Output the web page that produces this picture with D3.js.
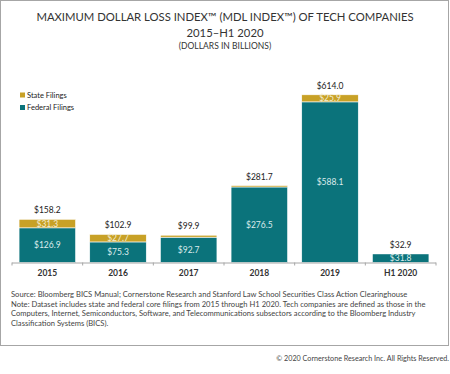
<!DOCTYPE html>
<html>
<head>
<meta charset="utf-8">
<script src="https://cdn.jsdelivr.net/npm/d3@7"></script>
<style>
  body { margin: 0; background: #fff; }
  svg text { font-family: Lato, "Open Sans", sans-serif; }
</style>
</head>
<body>
<div id="chart"></div>
<script>
// data
var years = ["2015", "2016", "2017", "2018", "2019", "H1 2020"];
var federal = [126.9, 75.3, 92.7, 276.5, 588.1, 31.8];
var state = [31.3, 27.7, 7.2, 5.2, 25.9, 1.1];
var totals = [158.2, 102.9, 99.9, 281.7, 614.0, 32.9];
var stateLabelled = [true, true, false, false, true, false];
var notes = [
    "Source: Bloomberg BICS Manual; Cornerstone Research and Stanford Law School Securities Class Action Clearinghouse",
    "Note: Dataset includes state and federal core filings from 2015 through H1 2020. Tech companies are defined as those in the",
    "Computers, Internet, Semiconductors, Software, and Telecommunications subsectors according to the Bloomberg Industry",
    "Classification Systems (BICS)."
];

var w = 450, h = 374;
var teal = "#0b737b", gold = "#c8a126";

var svg = d3.select("#chart").append("svg")
    .attr("width", w)
    .attr("height", h);

// frame
svg.append("rect")
    .attr("x", 0.5).attr("y", 0.5)
    .attr("width", 448).attr("height", 345)
    .attr("fill", "none")
    .attr("stroke", "#a6a6a6");

// titles
svg.append("text")
    .attr("x", 225).attr("y", 21)
    .attr("text-anchor", "middle")
    .attr("font-size", 11.3)
    .attr("fill", "#333")
    .text("MAXIMUM DOLLAR LOSS INDEX\u2122 (MDL INDEX\u2122) OF TECH COMPANIES");
svg.append("text")
    .attr("x", 225).attr("y", 37)
    .attr("text-anchor", "middle")
    .attr("font-size", 11.3)
    .attr("fill", "#333")
    .text("2015\u2013H1 2020");
svg.append("text")
    .attr("x", 225).attr("y", 49)
    .attr("text-anchor", "middle")
    .attr("font-size", 8.5)
    .attr("fill", "#333")
    .text("(DOLLARS IN BILLIONS)");

var x = d3.scaleBand()
    .domain(years)
    .range([12, 436])
    .paddingInner(0.2)
    .paddingOuter(0.1);

var y = d3.scaleLinear()
    .domain([0, 700])
    .range([262.5, 71.3]);

var rows = years.map(function (d, i) {
    return {year: d, federal: federal[i], state: state[i], total: totals[i], showState: stateLabelled[i]};
});
var stacked = d3.stack().keys(["federal", "state"])(rows);
var colors = {federal: teal, state: gold};

var bars = svg.append("g");
stacked.forEach(function (layer) {
    bars.append("g")
        .attr("fill", colors[layer.key])
        .selectAll("rect")
        .data(layer)
        .enter().append("rect")
        .attr("x", function (d) { return x(d.data.year); })
        .attr("y", function (d) { return y(d[1]); })
        .attr("width", x.bandwidth())
        .attr("height", function (d) { return y(d[0]) - y(d[1]); })
        .attr("stroke", "#fff")
        .attr("stroke-width", 0.6);
});

// labels inside segments
svg.append("g").selectAll("text")
    .data(rows)
    .enter().append("text")
    .attr("x", function (d) { return x(d.year) + x.bandwidth() / 2; })
    .attr("y", function (d) { return (y(0) + y(d.federal)) / 2 + 3; })
    .attr("text-anchor", "middle")
    .attr("font-size", 8.5)
    .attr("fill", "#dcecec")
    .text(function (d) { return "$" + d.federal.toFixed(1); });

svg.append("g").selectAll("text")
    .data(rows.filter(function (d) { return d.showState; }))
    .enter().append("text")
    .attr("x", function (d) { return x(d.year) + x.bandwidth() / 2; })
    .attr("y", function (d) { return (y(d.federal) + y(d.federal + d.state)) / 2 + 3; })
    .attr("text-anchor", "middle")
    .attr("font-size", 8.5)
    .attr("fill", "#f3ecd2")
    .text(function (d) { return "$" + d.state.toFixed(1); });

// totals above bars
svg.append("g").selectAll("text")
    .data(rows)
    .enter().append("text")
    .attr("x", function (d) { return x(d.year) + x.bandwidth() / 2; })
    .attr("y", function (d) { return y(d.federal + d.state) - 6; })
    .attr("text-anchor", "middle")
    .attr("font-size", 8.5)
    .attr("fill", "#222")
    .text(function (d) { return "$" + d.total.toFixed(1); });

// x axis with ticks between categories
var axis = svg.append("g");
axis.append("line")
    .attr("x1", 12).attr("x2", 436)
    .attr("y1", y(0) + 0.5).attr("y2", y(0) + 0.5)
    .attr("stroke", "#a6a6a6");
var bounds = years.map(function (d) { return x(d) - x.step() * x.paddingInner() / 2; });
bounds.push(436);
bounds[0] = 12;
axis.selectAll("line.tick")
    .data(bounds)
    .enter().append("line")
    .attr("class", "tick")
    .attr("x1", function (d) { return d; }).attr("x2", function (d) { return d; })
    .attr("y1", y(0)).attr("y2", y(0) + 3)
    .attr("stroke", "#a6a6a6");
axis.selectAll("text")
    .data(years)
    .enter().append("text")
    .attr("x", function (d) { return x(d) + x.bandwidth() / 2; })
    .attr("y", y(0) + 13)
    .attr("text-anchor", "middle")
    .attr("font-size", 8.5)
    .attr("font-weight", "bold")
    .attr("fill", "#333")
    .text(function (d) { return d; });

// legend
var legend = svg.append("g").attr("transform", "translate(20,92)");
[["State Filings", gold], ["Federal Filings", teal]].forEach(function (item, i) {
    var g = legend.append("g").attr("transform", "translate(0," + (i * 12.5) + ")");
    g.append("rect").attr("width", 5).attr("height", 5).attr("y", 0.5).attr("fill", item[1]);
    g.append("text").attr("x", 7).attr("y", 5.5)
        .attr("font-size", 7.5).attr("fill", "#222")
        .text(item[0]);
});

// notes
svg.append("g").selectAll("text")
    .data(notes)
    .enter().append("text")
    .attr("x", 11)
    .attr("y", function (d, i) { return 297 + i * 9.7; })
    .attr("font-size", 7.6)
    .attr("fill", "#444")
    .text(function (d) { return d; });

svg.append("text")
    .attr("x", 449).attr("y", 361)
    .attr("text-anchor", "end")
    .attr("font-size", 7.2)
    .attr("fill", "#444")
    .text("\u00a9 2020 Cornerstone Research Inc. All Rights Reserved.");
</script>
</body>
</html>
